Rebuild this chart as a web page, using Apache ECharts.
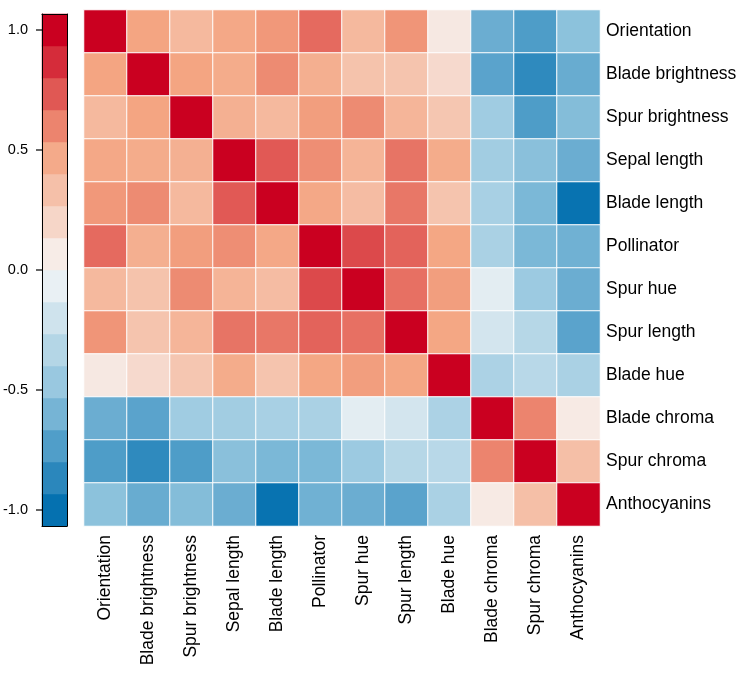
<!DOCTYPE html>
<html>
<head>
<meta charset="utf-8">
<script src="https://cdn.jsdelivr.net/npm/echarts@6/dist/echarts.min.js"></script>
<style>
  html, body { margin: 0; padding: 0; background: #fff; }
  #main { width: 748px; height: 677px; }
</style>
</head>
<body>
<div id="main"></div>
<script>
  // variable names, same order for rows (top->bottom) and columns (left->right)
  var variables = ['Orientation', 'Blade brightness', 'Spur brightness', 'Sepal length', 'Blade length',
    'Pollinator', 'Spur hue', 'Spur length', 'Blade hue', 'Blade chroma', 'Spur chroma', 'Anthocyanins'];

  // correlation matrix, one row per variable
  var corr = [
    [1.00, 0.50, 0.38, 0.48, 0.54, 0.68, 0.38, 0.55, 0.09, -0.64, -0.74, -0.52],
    [0.50, 1.00, 0.50, 0.46, 0.58, 0.44, 0.32, 0.31, 0.18, -0.70, -0.85, -0.65],
    [0.38, 0.50, 1.00, 0.43, 0.38, 0.52, 0.58, 0.40, 0.30, -0.43, -0.74, -0.55],
    [0.48, 0.46, 0.43, 1.00, 0.73, 0.57, 0.41, 0.65, 0.46, -0.42, -0.53, -0.64],
    [0.54, 0.58, 0.38, 0.73, 1.00, 0.48, 0.36, 0.64, 0.31, -0.39, -0.58, -0.99],
    [0.68, 0.44, 0.52, 0.57, 0.48, 1.00, 0.78, 0.70, 0.49, -0.38, -0.58, -0.62],
    [0.38, 0.32, 0.58, 0.41, 0.36, 0.78, 1.00, 0.66, 0.52, -0.10, -0.45, -0.64],
    [0.55, 0.31, 0.40, 0.65, 0.64, 0.70, 0.66, 1.00, 0.49, -0.18, -0.32, -0.70],
    [0.09, 0.18, 0.30, 0.46, 0.31, 0.49, 0.52, 0.49, 1.00, -0.37, -0.31, -0.38],
    [-0.64, -0.70, -0.43, -0.42, -0.39, -0.38, -0.10, -0.18, -0.37, 1.00, 0.60, 0.08],
    [-0.74, -0.85, -0.74, -0.53, -0.58, -0.58, -0.45, -0.32, -0.31, 0.60, 1.00, 0.34],
    [-0.52, -0.65, -0.55, -0.64, -0.99, -0.62, -0.64, -0.70, -0.38, 0.08, 0.34, 1.00]
  ];

  // colour bar: centre value of each of the 16 bins (bottom -> top)
  var colorbarBins = [-1, -0.867, -0.733, -0.6, -0.467, -0.333, -0.2, -0.067,
    0.067, 0.2, 0.333, 0.467, 0.6, 0.733, 0.867, 1];
  var colorbarTicks = [-1, -0.5, 0, 0.5, 1];

  var font = 'Liberation Sans, Arial, sans-serif';

  var heatData = [];
  corr.forEach(function (row, i) {
    row.forEach(function (v, j) {
      heatData.push([j, i, v]);
    });
  });
  var barData = colorbarBins.map(function (v, i) { return [0, i, v]; });
  var tickData = colorbarTicks.map(function (v) { return [0, v]; });

  var blackLine = { show: true, onZero: false, lineStyle: { color: '#000', width: 1 } };

  var chart = echarts.init(document.getElementById('main'));
  var option = {
    animation: false,
    visualMap: {
      type: 'continuous',
      show: false,
      min: -1,
      max: 1,
      seriesIndex: [0, 1],
      inRange: {
        color: ['#0571b0', '#92c5de', '#f7f7f7', '#f4a582', '#ca0020']
      }
    },
    grid: [
      { left: 84, top: 10, width: 516, height: 516 },
      // colour bar
      { left: 42, top: 14, width: 25, height: 512 },
      // colour bar tick scale (-1 .. 1)
      { left: 42, top: 30, width: 25, height: 480 }
    ],
    xAxis: [
      {
        gridIndex: 0,
        type: 'category',
        data: variables,
        position: 'bottom',
        axisLine: { show: false },
        axisTick: { show: false },
        splitLine: { show: false },
        axisLabel: { rotate: 90, margin: 9, fontSize: 17.5, color: '#000', fontFamily: font, interval: 0 }
      },
      {
        gridIndex: 1, type: 'category', data: ['bar'], position: 'bottom', z: 5,
        axisLine: blackLine, axisTick: { show: false }, axisLabel: { show: false }
      },
      {
        gridIndex: 1, type: 'category', data: ['bar'], position: 'top', z: 5,
        axisLine: blackLine, axisTick: { show: false }, axisLabel: { show: false }
      },
      {
        gridIndex: 2, type: 'category', data: ['bar'], show: false
      }
    ],
    yAxis: [
      {
        gridIndex: 0,
        type: 'category',
        data: variables,
        inverse: true,
        position: 'right',
        axisLine: { show: false },
        axisTick: { show: false },
        splitLine: { show: false },
        axisLabel: { margin: 6, fontSize: 17.5, color: '#000', fontFamily: font, interval: 0 }
      },
      {
        gridIndex: 1, type: 'category', data: colorbarBins.map(String), position: 'right', z: 5,
        axisLine: blackLine, axisTick: { show: false }, axisLabel: { show: false }
      },
      {
        gridIndex: 1, type: 'category', data: colorbarBins.map(String), position: 'left', z: 5,
        axisLine: blackLine, axisTick: { show: false }, axisLabel: { show: false }
      },
      {
        gridIndex: 2, type: 'value', min: -1, max: 1, interval: 0.5,
        position: 'left', z: 6,
        axisLine: { show: false },
        splitLine: { show: false },
        axisTick: { show: false },
        axisLabel: {
          margin: 14,
          fontSize: 14.5,
          color: '#000',
          fontFamily: font,
          formatter: function (v) { return v.toFixed(1); }
        }
      }
    ],
    series: [
      {
        type: 'heatmap',
        xAxisIndex: 0,
        yAxisIndex: 0,
        data: heatData,
        itemStyle: { borderColor: '#fff', borderWidth: 1 },
        emphasis: { disabled: true }
      },
      {
        type: 'heatmap',
        xAxisIndex: 1,
        yAxisIndex: 1,
        data: barData,
        emphasis: { disabled: true }
      },
      {
        // colour bar tick marks: small dashes left of the bar, placed on the -1..1 scale
        type: 'scatter',
        xAxisIndex: 3,
        yAxisIndex: 3,
        clip: false,
        silent: true,
        z: 10,
        symbol: 'rect',
        symbolSize: [6, 1.5],
        symbolOffset: [-15.5, 0],
        itemStyle: { color: '#000' },
        data: tickData
      }
    ]
  };
  chart.setOption(option);
</script>
</body>
</html>
